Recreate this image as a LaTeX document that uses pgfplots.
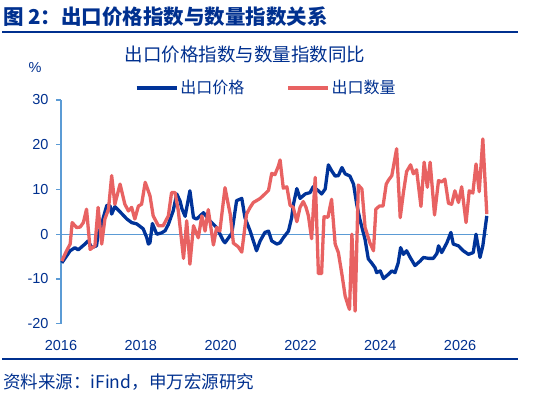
\documentclass[border=0pt]{standalone}
\usepackage{pgfplots}
\pgfplotsset{compat=1.18}
\usepackage{fontspec}
\setmainfont{Liberation Sans}
\newfontfamily\cjk{Noto Sans CJK SC}
\definecolor{txtblue}{RGB}{0,48,143}
\definecolor{axblue}{RGB}{91,155,213}
\definecolor{serblue}{RGB}{0,51,153}
\definecolor{serred}{RGB}{232,98,98}
\begin{document}
\begin{tikzpicture}
\begin{axis}[
  at={(61pt,71.3pt)}, anchor=south west,
  width=427pt, height=223.7pt, scale only axis,
  xmin=2016, xmax=2026.7, ymin=-20, ymax=30,
  axis lines=left,
  axis line style={-},
  x axis line style={draw=none},
  y axis line style={axblue, line width=1.2pt},
  xtick={2016,2018,2020,2022,2024,2026},
  xticklabels={2016,2018,2020,2022,2024,2026},
  x tick style={draw=none},
  ytick={-20,-10,0,10,20,30},
  y tick style={axblue, line width=1.2pt},
  tick align=outside, major tick length=5pt,
  /pgf/number format/assume math mode=true,
  ticklabel style={font=\fontsize{14.5}{16}\selectfont, text=txtblue},
  xticklabel style={yshift=-8pt},
  yticklabel style={xshift=-4pt},
  clip=false,
  legend style={at={(0.481,1.054)}, anchor=center, draw=none, fill=none,
    legend columns=2, font=\cjk\fontsize{16}{18}\selectfont, text=txtblue,
    /tikz/every even column/.append style={column sep=40pt}},
  legend image code/.code={\draw[#1] (0pt,0pt) -- (40pt,0pt);},
]
\draw[axblue, line width=1.2pt] (axis cs:2016,0) -- ++(-4pt,0pt) (axis cs:2016,0) -- (axis cs:2026.7,0);
\addplot[serblue, line width=3.3pt, line join=round] coordinates {
(2016.02,-6.4) (2016.13,-5.0) (2016.23,-3.7) (2016.35,-3.0) (2016.43,-3.5)
(2016.60,-2.2) (2016.68,-1.5) (2016.77,-3.0) (2016.89,-2.6) (2016.93,0)
(2017.02,2.0) (2017.06,3.7) (2017.15,6.5) (2017.23,6.3) (2017.27,4.5)
(2017.35,6.2) (2017.48,5.0) (2017.65,3.4) (2017.77,2.6) (2017.90,2.3)
(2018.06,1.2) (2018.15,-0.8) (2018.19,-2.2) (2018.23,-1.9) (2018.29,2.4)
(2018.40,0) (2018.52,0.3) (2018.61,0.8) (2018.69,2.2) (2018.81,5.2)
(2018.90,9.0) (2018.98,7.5) (2019.03,5.7) (2019.11,4.0) (2019.23,9.7)
(2019.32,3.7) (2019.40,3.4) (2019.57,4.8) (2019.73,3.0) (2019.90,1.5)
(2020.07,-1.5) (2020.11,-1.9) (2020.28,0.2) (2020.40,7.5) (2020.53,8.0)
(2020.61,3.7) (2020.74,0.7) (2020.90,-3.7) (2020.99,-1.5) (2021.11,0.4)
(2021.20,0.7) (2021.28,-1.5) (2021.41,-2.2) (2021.49,-1.9) (2021.57,-0.8)
(2021.70,0.7) (2021.78,3.7) (2021.82,6.5) (2021.91,10.2) (2021.99,8.0)
(2022.12,9.0) (2022.24,9.3) (2022.32,10.6) (2022.45,9.7) (2022.53,9.0)
(2022.62,10.1) (2022.70,15.5) (2022.78,14.2) (2022.87,13.0) (2022.95,13.1)
(2023.04,14.9) (2023.12,13.5) (2023.24,13.0) (2023.33,11.2) (2023.41,6.7)
(2023.49,3.3) (2023.62,-1.2) (2023.70,-5.5) (2023.79,-6.5) (2023.87,-7.5)
(2023.91,-8.6) (2024.00,-8.2) (2024.08,-9.9) (2024.20,-9.0) (2024.29,-8.2)
(2024.37,-8.6) (2024.45,-6.4) (2024.51,-3.0) (2024.58,-4.5) (2024.66,-3.7)
(2024.75,-5.2) (2024.87,-7.0) (2025.00,-6.0) (2025.08,-5.2) (2025.21,-5.4)
(2025.33,-5.4) (2025.42,-4.3) (2025.46,-2.6) (2025.54,-4.1) (2025.67,-1.9)
(2025.77,0.4) (2025.83,-2.2) (2025.96,-2.6) (2026.08,-3.7) (2026.21,-4.5)
(2026.33,-4.1) (2026.40,0) (2026.50,-5.2) (2026.57,-2.6) (2026.67,4.1)
};
\addlegendentry{出口价格}
\addplot[serred, line width=3.3pt, line join=round] coordinates {
(2016.02,-6.0) (2016.14,-3.7) (2016.23,-2.2) (2016.28,2.6) (2016.39,1.5)
(2016.48,1.6) (2016.56,2.6) (2016.64,5.6) (2016.73,-3.4) (2016.85,-2.6)
(2016.93,6.0) (2017.02,-2.2) (2017.10,3.4) (2017.19,5.6) (2017.27,13.1)
(2017.35,6.7) (2017.48,11.2) (2017.60,6.7) (2017.69,5.2) (2017.77,6.0)
(2017.85,3.4) (2017.94,6.3) (2018.02,6.7) (2018.11,11.6) (2018.23,8.6)
(2018.31,4.1) (2018.44,1.9) (2018.56,1.9) (2018.69,4.1) (2018.77,9.3)
(2018.86,9.3) (2018.94,5.2) (2019.07,-5.4) (2019.15,3.0) (2019.23,-6.7)
(2019.32,1.9) (2019.38,0.5) (2019.44,-0.8) (2019.53,4.1) (2019.61,0.7)
(2019.69,5.5) (2019.82,-2.4) (2019.90,1.5) (2019.98,0.7) (2020.11,10.4)
(2020.19,6.7) (2020.24,4.5) (2020.32,-2.0) (2020.44,-2.8) (2020.53,-4.0)
(2020.65,4.5) (2020.74,6.0) (2020.82,7.1) (2020.90,7.5) (2020.99,8.0)
(2021.11,9.0) (2021.20,9.8) (2021.28,13.6) (2021.36,13.3) (2021.45,15.3)
(2021.49,16.6) (2021.57,10.3) (2021.66,10.6) (2021.74,6.5) (2021.82,6.0)
(2021.91,2.8) (2021.99,6.0) (2022.07,7.3) (2022.14,6.0) (2022.20,4.1)
(2022.28,-1.0) (2022.37,12.7) (2022.45,-8.8) (2022.53,-8.8) (2022.59,3.9)
(2022.69,3.8) (2022.78,7.8) (2022.87,-2.2) (2022.95,-4.1) (2023.04,-9.0)
(2023.12,-13.8) (2023.20,-16.1) (2023.23,-16.8) (2023.29,0) (2023.37,-17.2)
(2023.45,11.0) (2023.54,10.1) (2023.62,1.5) (2023.74,-1.9) (2023.83,-3.7)
(2023.89,5.6) (2023.98,6.3) (2024.07,6.3) (2024.15,11.2) (2024.20,12.0)
(2024.29,13.1) (2024.41,19.1) (2024.50,3.7) (2024.58,9.3) (2024.66,14.0)
(2024.76,15.5) (2024.83,13.5) (2024.91,14.4) (2025.02,6.2) (2025.10,16.1)
(2025.18,10.5) (2025.25,16.1) (2025.36,4.3) (2025.46,12.0) (2025.54,11.7)
(2025.62,12.3) (2025.71,6.9) (2025.79,6.7) (2025.87,9.7) (2025.96,7.1)
(2026.04,10.6) (2026.15,2.6) (2026.23,9.7) (2026.32,9.2) (2026.40,15.7)
(2026.48,9.5) (2026.57,21.3) (2026.67,4.5)
};
\addlegendentry{出口数量}
\end{axis}
\node[anchor=west, inner sep=0pt, text=txtblue, font=\cjk\bfseries\fontsize{20.5}{22}\selectfont] at (3pt,378pt) {图 2：出口价格指数与数量指数关系};
\draw[txtblue, line width=2.3pt] (2pt,363.3pt) -- (518pt,363.3pt);
\node[inner sep=0pt, text=txtblue, font=\cjk\fontsize{18.5}{20}\selectfont] at (245pt,340pt) {出口价格指数与数量指数同比};
\node[inner sep=0pt, text=txtblue, font=\fontsize{14.5}{16}\selectfont] at (35pt,327pt) {\%};
\draw[txtblue, line width=2.3pt] (2pt,35.7pt) -- (518pt,35.7pt);
\node[anchor=west, inner sep=0pt, text=txtblue, font=\cjk\fontsize{17.5}{19}\selectfont] at (3pt,13.3pt) {资料来源：iFind，申万宏源研究};
\pgfresetboundingbox
\path[use as bounding box] (0pt,0pt) rectangle (543pt,395pt);
\end{tikzpicture}
\end{document}
